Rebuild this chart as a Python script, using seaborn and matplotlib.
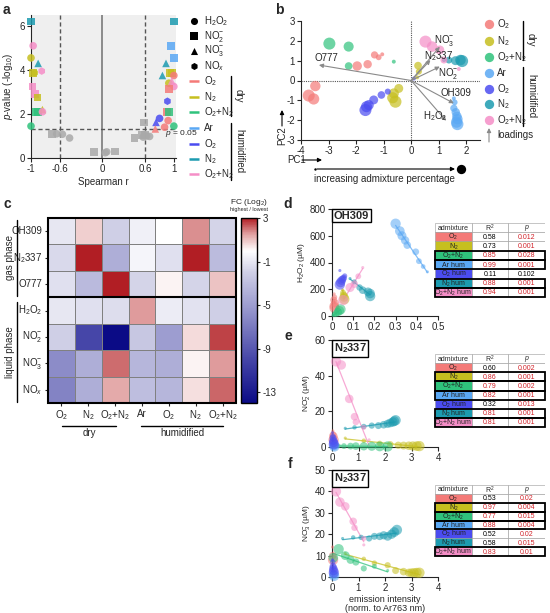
import numpy as np
import pandas as pd
import matplotlib
matplotlib.use("Agg")
import matplotlib.pyplot as plt
import seaborn as sns
from matplotlib.colors import LinearSegmentedColormap
from matplotlib.patches import Rectangle

# ================= DATA =================

GROUPS = ["O2", "N2", "O2+N2", "Ar hum", "O2 hum", "N2 hum", "O2+N2 hum"]
COLORS = ["#f47a78", "#c6bf1f", "#2fc27c", "#5aa8f4", "#4b4cf0", "#1c9bb0", "#f58ec7"]
LABELS = [r"O$_2$", r"N$_2$", r"O$_2$+N$_2$", "Ar hum", r"O$_2$ hum", r"N$_2$ hum", r"O$_2$+N$_2$ hum"]
PAL = dict(zip(GROUPS, COLORS))

# a: Spearman r vs p-value (-log10)
a_r = [-1.00, -0.97, -1.00, -0.97, -0.95, -0.90, -0.85, -0.98, -0.94, -0.91,
       -0.93, -0.90, -0.84, -0.84, -1.00, -0.71, -0.64, -0.56, -0.46, -0.12,
       0.04, 0.06, 0.18, 0.45, 0.58, 0.55, 0.57, 0.60, 0.62, 0.66,
       1.00, 0.96, 1.00, 0.89, 0.95, 0.97, 0.84, 1.00, 0.93, 0.97,
       1.00, 0.93, 0.91, 0.90, 0.93, 0.80, 0.75, 0.92, 0.87, 1.00, 0.74]
a_p = [6.20, 5.10, 4.55, 3.87, 3.87, 4.30, 3.95, 3.25, 2.92, 2.75,
       2.10, 2.10, 2.20, 2.10, 1.45, 1.09, 1.10, 1.08, 0.91, 0.26,
       0.24, 0.28, 0.30, 0.90, 1.62, 1.05, 0.95, 1.05, 1.00, 0.98,
       6.20, 5.10, 4.55, 4.30, 3.87, 3.87, 3.75, 3.75, 3.40, 3.50,
       3.25, 3.15, 2.58, 2.10, 2.10, 1.80, 1.62, 1.70, 1.40, 1.45, 1.32]
a_grp = ["N2 hum", "O2+N2 hum", "N2", "N2", "N2", "N2 hum", "O2+N2 hum", "O2+N2 hum", "O2+N2 hum", "N2",
         "O2+N2", "O2+N2", "N2", "O2+N2 hum", "O2+N2", "O2", "O2", "N2", "O2 hum", "N2 hum",
         "Ar hum", "Ar hum", "O2", "O2 hum", "Ar hum", "O2", "N2", "O2", "O2+N2", "N2",
         "N2 hum", "Ar hum", "Ar hum", "N2 hum", "N2", "N2", "N2 hum", "O2", "N2", "O2+N2 hum",
         "O2+N2 hum", "O2", "O2 hum", "O2", "O2+N2", "O2 hum", "O2 hum", "O2", "O2", "O2+N2", "O2"]
a_spec = ["NO2", "H2O2", "H2O2", "NO2", "NOx", "NO3", "NOx", "NO2", "NO2", "NO2",
          "NO2", "NO2", "NO3", "H2O2", "H2O2", "NO2", "H2O2", "H2O2", "H2O2", "NO2",
          "H2O2", "H2O2", "NO2", "NO2", "NO2", "NO2", "H2O2", "NO2", "H2O2", "H2O2",
          "NO2", "NO2", "NO2", "NO3", "NO2", "NO2", "NO3", "H2O2", "H2O2", "NO3",
          "H2O2", "NO2", "NOx", "NO2", "NO2", "H2O2", "NO3", "H2O2", "H2O2", "H2O2", "NO3"]
SPECIES = ["H2O2", "NO2", "NO3", "NOx"]
SPEC_LABELS = [r"H$_2$O$_2$", r"NO$_2^{-}$", r"NO$_3^{-}$", r"NO$_x$"]
SPEC_MARKERS = {"H2O2": "o", "NO2": "s", "NO3": "^", "NOx": "h"}

# b: PCA scores (ordered by increasing admixture) and loadings
b_grp = (["O2"] * 8 + ["O2+N2"] * 4 + ["N2"] * 7 + ["Ar hum"] * 8
         + ["O2 hum"] * 7 + ["N2 hum"] * 5 + ["O2+N2 hum"] * 5)
b_x = [-1.05, -1.18, -1.33, -1.58, -1.96, -3.48, -3.54, -3.72,
       -0.63, -2.27, -2.27, -2.97,
       0.22, 0.28, 0.25, -0.45, -0.63, -0.67, -0.57,
       1.55, 1.58, 1.55, 1.62, 1.66, 1.68, 1.65, 1.68,
       0.10, -0.85, -1.08, -1.36, -1.54, -1.62, -1.66,
       1.19, 1.37, 1.61, 1.79, 1.85,
       1.73, 1.19, 1.04, 0.76, 0.52]
b_y = [1.32, 1.17, 1.29, 0.82, 0.73, -0.28, -0.93, -0.76,
       0.95, 0.73, 1.71, 1.86,
       0.16, 0.45, 0.75, -0.40, -0.65, -0.87, -1.07,
       -0.90, -1.10, -1.40, -1.60, -1.80, -1.95, -2.10, -2.20,
       0.10, -0.56, -0.73, -0.98, -1.24, -1.32, -1.49,
       1.03, 1.03, 1.00, 1.03, 0.98,
       0.58, 1.03, 1.54, 1.71, 1.96]
load_names = ["O777", r"N$_2$337", r"NO$_3^{-}$", r"NO$_2^{-}$", "OH309", r"H$_2$O$_2$"]
load_x = [-3.35, 0.70, 1.04, 1.04, 1.55, 1.27]
load_y = [0.78, 1.03, 1.70, 0.70, -1.15, -2.03]

# c: fold change heatmap (Log2)
c_rows = ["OH309", r"N$_2$337", "O777", r"H$_2$O$_2$", r"NO$_2^{-}$", r"NO$_3^{-}$", r"NO$_x$"]
c_cols = [r"O$_2$", r"N$_2$", r"O$_2$+N$_2$", "Ar", r"O$_2$", r"N$_2$", r"O$_2$+N$_2$"]
c_vals = [[-1.0, 0.8, -2.0, -0.6, 0.0, 1.7, -1.8],
          [-1.6, 3.0, -4.0, -0.4, -1.3, 3.0, -3.2],
          [-1.3, -3.3, 3.0, -1.8, 0.2, -1.8, 1.0],
          [-1.0, -1.3, -1.4, 1.6, -0.8, -1.2, -2.0],
          [-2.0, -10.0, -14.0, -2.5, -5.0, 0.6, 2.6],
          [-6.0, -4.0, 2.1, -3.5, -4.0, 0.2, 1.6],
          [-6.5, -4.0, 1.4, -3.0, -3.5, 0.5, 2.2]]

# d: OH309 vs H2O2
d_x = {"O2": [0.010, 0.012, 0.008, 0.014, 0.010, 0.012],
       "N2": [0.050, 0.052, 0.055, 0.057, 0.058],
       "O2+N2": [0.005, 0.012, 0.020, 0.028, 0.035, 0.040],
       "Ar hum": [0.45, 0.43, 0.41, 0.395, 0.355, 0.345, 0.33, 0.32, 0.30],
       "O2 hum": [0.037, 0.060, 0.055, 0.050, 0.045, 0.040, 0.037],
       "N2 hum": [0.085, 0.105, 0.130, 0.145, 0.170, 0.180, 0.180],
       "O2+N2 hum": [0.145, 0.124, 0.105, 0.085, 0.053]}
d_y = {"O2": [165, 140, 120, 95, 75, 60],
       "N2": [195, 175, 155, 140, 125],
       "O2+N2": [5, 12, 20, 30, 40, 50],
       "Ar hum": [330, 370, 410, 480, 530, 565, 600, 635, 690],
       "O2 hum": [340, 300, 285, 275, 265, 250, 235],
       "N2 hum": [280, 255, 213, 193, 181, 168, 149],
       "O2+N2 hum": [362, 297, 238, 213, 119]}
d_r2 = [0.58, 0.73, 0.85, 0.99, 0.11, 0.88, 0.94]
d_p = [0.012, 0.001, 0.028, 0.001, 0.102, 0.001, 0.001]

# e: N2337 vs NO2-
e_x = {"O2": [0.03, 0.04, 0.05, 0.06],
       "N2": [0.5, 1.2, 1.8, 2.2, 2.5, 2.7, 2.9, 3.05, 3.2, 3.3],
       "O2+N2": [0.1, 0.25, 0.45, 0.7, 0.9, 1.2, 1.5, 1.8, 2.1],
       "Ar hum": [0.05, 0.06, 0.07, 0.08, 0.09],
       "O2 hum": [0.02, 0.03, 0.04, 0.05, 0.06, 0.07],
       "N2 hum": [0.5, 0.85, 1.2, 1.5, 1.75, 1.95, 2.1, 2.2, 2.3, 2.35, 2.4],
       "O2+N2 hum": [1.4, 1.2, 0.9, 0.85, 0.65, 0.35, 0.15]}
e_y = {"O2": [9, 7, 6, 4],
       "N2": [5.0, 3.5, 2.0, 1.5, 1.0, 0.8, 0.7, 0.6, 0.5, 0.5],
       "O2+N2": [0.6, 0.6, 0.5, 0.5, 0.5, 0.4, 0.4, 0.3, 0.3],
       "Ar hum": [2.0, 1.5, 1.0, 0.6, 0.3],
       "O2 hum": [8, 6, 5, 3.5, 2.5, 1.5],
       "N2 hum": [10.5, 11, 11.5, 12, 12, 12.5, 13, 13.5, 14, 14.5, 15],
       "O2+N2 hum": [4, 11, 14, 17, 27, 46, 48]}
e_r2 = [0.60, 0.86, 0.79, 0.82, 0.32, 0.81, 0.81]
e_p = [0.002, 0.001, 0.002, 0.001, 0.013, 0.001, 0.001]

# f: N2337 vs NO3-
f_x = {"O2": [0.02, 0.03, 0.04],
       "N2": [0.5, 1.2, 1.6, 2.1, 2.4, 2.7, 2.9, 3.0, 3.1, 3.2, 3.3],
       "O2+N2": [2.1, 1.6, 1.2, 0.9, 0.7, 0.5, 0.05, 0.25],
       "Ar hum": [0.04, 0.05, 0.06, 0.07, 0.08],
       "O2 hum": [0.02, 0.03, 0.04, 0.05, 0.06, 0.07],
       "N2 hum": [0.4, 0.8, 1.1, 1.4, 1.6, 1.8, 1.95, 2.1, 2.25, 2.35, 2.45],
       "O2+N2 hum": [1.2, 1.2, 0.85, 0.8, 0.5, 0.3, 0.15]}
f_y = {"O2": [14, 10, 8],
       "N2": [11, 8.5, 6.5, 5.5, 3, 2.5, 2, 2, 2, 2, 2],
       "O2+N2": [3, 5, 4, 7, 8, 10, 9, 13],
       "Ar hum": [3, 2, 1.5, 1, 0.5],
       "O2 hum": [8, 7, 5, 4, 3, 2],
       "N2 hum": [18, 18.5, 18.5, 18, 19, 19, 19.5, 19, 20, 21, 22],
       "O2+N2 hum": [15, 18, 23, 26, 33, 35, 40]}
f_r2 = [0.53, 0.97, 0.77, 0.88, 0.52, 0.58, 0.83]
f_p = [0.02, 0.004, 0.015, 0.004, 0.02, 0.015, 0.01]

# ================= STYLE =================

sns.set_style("ticks")
plt.rcParams["font.family"] = ["Liberation Sans", "DejaVu Sans"]
plt.rcParams["mathtext.fontset"] = "custom"
plt.rcParams["mathtext.rm"] = "Liberation Sans"
plt.rcParams["mathtext.it"] = "Liberation Sans:italic"
plt.rcParams["mathtext.bf"] = "Liberation Sans:bold"
plt.rcParams["axes.unicode_minus"] = False
plt.rcParams["axes.linewidth"] = 0.8
plt.rcParams["xtick.major.width"] = 0.8
plt.rcParams["ytick.major.width"] = 0.8
plt.rcParams["xtick.major.size"] = 3
plt.rcParams["ytick.major.size"] = 3

W, H = 550, 613
fig = plt.figure(figsize=(W / 100, H / 100), dpi=100)


def px_axes(l, t, r, b):
    return fig.add_axes([l / W, 1 - b / H, (r - l) / W, (b - t) / H])


def tidy(ax, fs=7):
    sns.despine(ax=ax)
    ax.tick_params(labelsize=fs, pad=1.5)


RED = "#d2232a"

# ================= a =================

ax_a = px_axes(31, 15, 176, 158)
df_a = pd.DataFrame({"r": a_r, "p": a_p, "grp": a_grp, "spec": a_spec})
sig = (df_a["r"].abs() >= 0.6) & (df_a["p"] >= 1.3)
df_a["hue"] = np.where(sig, df_a["grp"], "ns")
df_a = pd.concat([df_a[~sig], df_a[sig]])
pal_a = dict(PAL, ns="#a9a9a9")
sns.scatterplot(data=df_a, x="r", y="p", hue="hue", style="spec", palette=pal_a,
                markers=SPEC_MARKERS, s=30, linewidth=0, alpha=0.85, legend=False,
                ax=ax_a, zorder=4)
for coll in ax_a.collections:
    coll.set_clip_on(False)
ax_a.set_facecolor("#efefef")
ax_a.axvline(0, color="#7a7a7a", lw=1.2, zorder=2)
for xv in (-0.6, 0.6):
    ax_a.axvline(xv, color="#555555", lw=1, ls=(0, (3, 2)), zorder=2)
ax_a.axhline(1.3, color="#555555", lw=1, ls=(0, (3, 2)), zorder=2)
ax_a.text(0.87, 1.12, r"$p$ = 0.05", fontsize=6, va="center", ha="left", zorder=5)
ax_a.set_xlim(-1.0, 1.03)
ax_a.set_ylim(0, 6.5)
ax_a.set_xticks([-1, -0.6, 0, 0.6, 1])
ax_a.set_xticklabels(["-1", "-0.6", "0", "0.6", "1"])
ax_a.set_yticks([0, 2, 4, 6])
ax_a.set_xlabel("Spearman r", fontsize=7, labelpad=2)
ax_a.set_ylabel(r"$p$-value (-log$_{10}$)", fontsize=7, labelpad=3)
tidy(ax_a)

# ================= b =================

ax_b = px_axes(301, 21, 480, 140)
df_b = pd.DataFrame({"x": b_x, "y": b_y, "grp": b_grp})
df_b["lvl"] = df_b.groupby("grp").cumcount()
for g in GROUPS:
    sub = df_b[df_b["grp"] == g]
    sns.scatterplot(x=sub["x"], y=sub["y"], size=sub["lvl"], sizes=(8, 75),
                    color=PAL[g], alpha=0.7, linewidth=0, legend=False, ax=ax_b, zorder=3)
ax_b.axvline(0, color="#555555", lw=0.8, ls=(0, (1, 1)), zorder=1)
ax_b.axhline(0, color="#555555", lw=0.8, ls=(0, (1, 1)), zorder=1)
for name, lx, ly in zip(load_names, load_x, load_y):
    ax_b.annotate("", xy=(lx, ly), xytext=(0, 0),
                  arrowprops=dict(arrowstyle="-|>", color="#8a8a8a", lw=0.8,
                                  mutation_scale=6, shrinkA=0, shrinkB=0), zorder=4)
label_pos = [(-3.5, 1.12), (0.48, 1.25), (0.82, 2.0), (0.97, 0.36), (1.07, -0.62), (0.42, -1.82)]
for name, (tx, ty) in zip(load_names, label_pos):
    ax_b.text(tx, ty, name, fontsize=7, ha="left", va="center", zorder=5)
ax_b.set_xlim(-4, 2.5)
ax_b.set_ylim(-3, 3)
ax_b.set_xticks([-4, -3, -2, -1, 0, 1, 2])
ax_b.set_yticks([-3, -2, -1, 0, 1, 2, 3])
ax_b.set_xlabel("")
ax_b.set_ylabel("")
tidy(ax_b)

# ================= c =================

ax_c = px_axes(48, 218, 236, 403)
cax = px_axes(241, 218, 257, 403)
cmap = LinearSegmentedColormap.from_list(
    "fc", [(0.0, "#0b0b86"), (0.235, "#4646a8"), (0.47, "#8c8cc8"), (0.706, "#cfcfe6"),
           (0.824, "#ffffff"), (0.912, "#e2a4a4"), (1.0, "#b11e24")])
sns.heatmap(np.array(c_vals), ax=ax_c, cbar_ax=cax, cmap=cmap, vmin=-14, vmax=3,
            linewidths=0.5, linecolor="#808080", xticklabels=c_cols, yticklabels=c_rows,
            cbar_kws={"ticks": [3, -1, -5, -9, -13]})
ax_c.add_patch(Rectangle((0, 0), 7, 7, fill=False, lw=1.5, ec="black", clip_on=False, zorder=5))
ax_c.axhline(3, color="black", lw=1.5, zorder=5)
ax_c.tick_params(labelsize=7, length=2.5, pad=1.5)
ax_c.set_yticklabels(c_rows, rotation=0)
ax_c.set_xticklabels(c_cols, rotation=0)
cb = ax_c.collections[0].colorbar
cb.outline.set_linewidth(1)
cb.outline.set_edgecolor("black")
cax.tick_params(labelsize=7, length=2.5, pad=1.5)

# ================= d / e / f =================


def scatter_panel(ax, xs, ys, pvals, title, ylabel, xlim, ylim, xticks, yticks, xticklabels):
    for g, pv in zip(GROUPS, pvals):
        x = np.array(xs[g])
        y = np.array(ys[g])
        lvl = np.arange(len(x))
        sns.scatterplot(x=x, y=y, size=lvl, sizes=(5, 55), color=PAL[g], alpha=0.55,
                        linewidth=0, legend=False, ax=ax, zorder=3)
        if pv < 0.05:
            sns.regplot(x=x, y=y, scatter=False, ci=None, ax=ax, color=PAL[g],
                        line_kws={"lw": 0.9, "alpha": 0.75})
    for coll in ax.collections:
        coll.set_clip_on(False)
    ax.set_xlim(*xlim)
    ax.set_ylim(*ylim)
    ax.set_xticks(xticks)
    ax.set_xticklabels(xticklabels)
    ax.set_yticks(yticks)
    ax.set_xlabel("")
    ax.set_ylabel(ylabel, fontsize=6, labelpad=2)
    ax.text(0.015, 0.985, title, transform=ax.transAxes, fontsize=8, fontweight="bold",
            ha="left", va="top", zorder=6,
            bbox=dict(boxstyle="square,pad=0.15", fc="white", ec="black", lw=1))
    tidy(ax)


def draw_table(ax, r2, pv):
    ax.set_xlim(0, 3)
    ax.set_ylim(8, 0)
    ax.axis("off")
    heads = ["admixture", r"R$^2$", r"$p$"]
    for j, h in enumerate(heads):
        ax.add_patch(Rectangle((j, 0), 1, 1, fc="white", ec="#9a9a9a", lw=0.4))
        ax.text(j + 0.5, 0.55, h, fontsize=5, ha="center", va="center")
    for i, g in enumerate(GROUPS):
        row = i + 1
        sig_p = pv[i] < 0.05
        strong = sig_p and r2[i] >= 0.75
        ax.add_patch(Rectangle((0, row), 1, 1, fc=PAL[g], ec="#9a9a9a", lw=0.4))
        ax.add_patch(Rectangle((1, row), 1, 1, fc="white", ec="#9a9a9a", lw=0.4))
        ax.add_patch(Rectangle((2, row), 1, 1, fc="white", ec="#9a9a9a", lw=0.4))
        ax.text(0.5, row + 0.55, LABELS[i], fontsize=5, ha="center", va="center", color="#222222")
        ax.text(1.5, row + 0.55, f"{r2[i]:.2f}", fontsize=5, ha="center", va="center",
                color=RED if strong else "black")
        ax.text(2.5, row + 0.55, str(pv[i]), fontsize=5, ha="center", va="center",
                color=RED if sig_p else "black")
        if strong:
            ax.add_patch(Rectangle((0, row), 3, 1, fill=False, ec="black", lw=1.3,
                                   clip_on=False, zorder=5))


ax_d = px_axes(332, 209, 438, 316)
scatter_panel(ax_d, d_x, d_y, d_p, "OH309", r"H$_2$O$_2$ (µM)", (0, 0.5), (0, 800),
              [0, 0.1, 0.2, 0.3, 0.4, 0.5], [0, 200, 400, 600, 800],
              ["0", "0.1", "0.2", "0.3", "0.4", "0.5"])
draw_table(px_axes(435, 223, 545, 297), d_r2, d_p)

ax_e = px_axes(332, 340, 438, 447)
scatter_panel(ax_e, e_x, e_y, e_p, r"N$_\mathbf{2}$337", r"NO$_2^{-}$ (µM)", (0, 4), (0, 60),
              [0, 1, 2, 3, 4], [0, 20, 40, 60], ["0", "1", "2", "3", "4"])
draw_table(px_axes(435, 354, 545, 427), e_r2, e_p)

ax_f = px_axes(332, 470, 438, 577)
scatter_panel(ax_f, f_x, f_y, f_p, r"N$_\mathbf{2}$337", r"NO$_3^{-}$ (µM)", (0, 4), (0, 50),
              [0, 1, 2, 3, 4], [0, 10, 20, 30, 40, 50], ["0", "1", "2", "3", "4"])
ax_f.set_xlabel("emission intensity\n(norm. to Ar763 nm)", fontsize=6.5, labelpad=1,
                linespacing=1.0)
draw_table(px_axes(435, 485, 545, 556), f_r2, f_p)

# ================= OVERLAY (labels, legends, brackets) =================

ov = fig.add_axes([0, 0, 1, 1], zorder=10)
ov.set_xlim(0, W)
ov.set_ylim(H, 0)
ov.axis("off")

for lab, (lx, ly) in zip("abcdef", [(6, 10), (279, 10), (7, 204), (288, 204), (288, 336), (290, 464)]):
    ov.text(lx, ly, lab, fontsize=10, fontweight="bold", ha="center", va="center")

# legend a
for spec, lab, yy in zip(SPECIES, SPEC_LABELS, [21, 36, 51, 66]):
    ov.scatter(194, yy, marker=SPEC_MARKERS[spec], s=26, color="black", linewidths=0)
    ov.text(204, yy, lab, fontsize=7, ha="left", va="center")
for g, lab, yy in zip(GROUPS, LABELS, [81, 97, 112, 128, 144, 159, 174]):
    ov.plot([189, 199], [yy, yy], color=PAL[g], lw=1.8, solid_capstyle="butt")
    ov.text(204, yy, lab.replace(" hum", ""), fontsize=7, ha="left", va="center")
ov.plot([231, 231], [76, 116], color="black", lw=1)
ov.text(234, 96, "dry", rotation=270, fontsize=7, ha="left", va="center")
ov.plot([231, 231], [123, 180], color="black", lw=1)
ov.text(234, 151, "humidified", rotation=270, fontsize=7, ha="left", va="center")

# legend b
for g, lab, yy in zip(GROUPS, LABELS, [24, 41, 57, 73, 89, 104, 120]):
    ov.scatter(489, yy, s=45, color=PAL[g], alpha=0.85, linewidths=0)
    ov.text(497, yy, lab.replace(" hum", ""), fontsize=7, ha="left", va="center")
ov.annotate("", xy=(489, 128), xytext=(489, 142),
            arrowprops=dict(arrowstyle="-|>", color="#8a8a8a", lw=0.8, mutation_scale=6,
                            shrinkA=0, shrinkB=0))
ov.text(497, 135, "loadings", fontsize=7, ha="left", va="center")
ov.plot([523, 523], [21, 60], color="black", lw=1)
ov.text(526, 40, "dry", rotation=270, fontsize=7, ha="left", va="center")
ov.plot([523, 523], [67, 126], color="black", lw=1)
ov.text(526, 96, "humidified", rotation=270, fontsize=7, ha="left", va="center")

# axis hints b
ov.text(282, 136, "PC2", rotation=90, fontsize=7, ha="center", va="center")
ov.annotate("", xy=(282, 110), xytext=(282, 126),
            arrowprops=dict(arrowstyle="-|>", color="black", lw=0.8, mutation_scale=6,
                            shrinkA=0, shrinkB=0))
ov.text(287, 160, "PC1", fontsize=7, ha="left", va="center")
ov.annotate("", xy=(322, 160), xytext=(302, 160),
            arrowprops=dict(arrowstyle="-|>", color="black", lw=0.8, mutation_scale=6,
                            shrinkA=0, shrinkB=0))
ov.scatter(315, 169, s=3, color="black", linewidths=0)
ov.annotate("", xy=(455, 169), xytext=(317, 169),
            arrowprops=dict(arrowstyle="-|>", color="black", lw=0.8, mutation_scale=6,
                            shrinkA=0, shrinkB=0))
ov.scatter(461, 169, s=45, color="black", linewidths=0)
ov.text(384, 179, "increasing admixture percentage", fontsize=7, ha="center", va="center")

# c annotations
ov.plot([17, 17], [220, 296], color="black", lw=1)
ov.text(10, 258, "gas phase", rotation=90, fontsize=7, ha="center", va="center")
ov.plot([17, 17], [302, 402], color="black", lw=1)
ov.text(10, 352, "liquid phase", rotation=90, fontsize=7, ha="center", va="center")
ov.plot([62, 116], [426, 426], color="black", lw=1)
ov.text(89, 433, "dry", fontsize=7, ha="center", va="center")
ov.plot([141, 223], [426, 426], color="black", lw=1)
ov.text(182, 433, "humidified", fontsize=7, ha="center", va="center")
ov.text(249, 203, r"FC (Log$_2$)", fontsize=6, ha="center", va="center")
ov.text(249, 210, "highest / lowest", fontsize=4, ha="center", va="center")

fig.savefig("out.png", dpi=100)
